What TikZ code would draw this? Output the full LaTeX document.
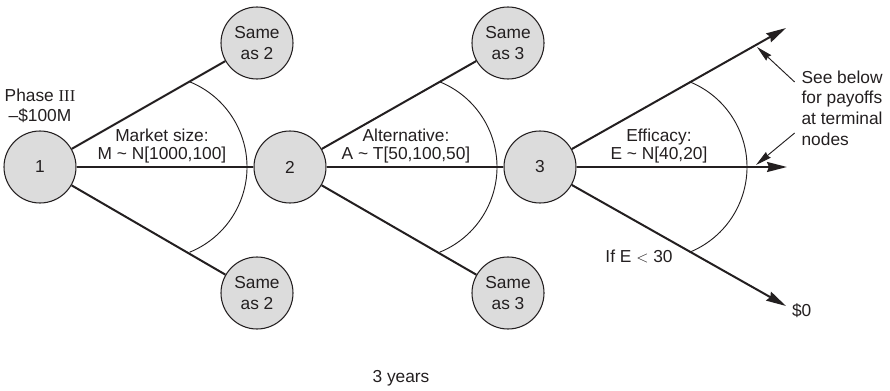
\documentclass[tikz,border=0pt]{standalone}
\usepackage{fontspec}
\setmainfont{Liberation Sans}
\newfontfamily\romanfont{Liberation Serif}
\usepackage{xcolor}
\usetikzlibrary{arrows.meta, positioning}
\definecolor{chancefill}{HTML}{DCDCDC}
\definecolor{inkgray}{HTML}{231F20}

\begin{document}
\begin{tikzpicture}[
    x=0.75pt, y=0.75pt,
    font=\fontsize{13}{15}\selectfont,
    every node/.style={text=inkgray},
    chance/.style={draw=inkgray, line width=0.8pt, circle, fill=chancefill, minimum size=54pt, inner sep=0pt, align=center},
    branch/.style={line width=1.5pt, inkgray},
    tipped/.style={branch, -{Stealth[length=15pt, width=7.5pt, inset=1.5pt]}},
    bracket/.style={line width=0.7pt, inkgray},
    pointer/.style={line width=0.7pt, inkgray, -{Stealth[length=12pt, width=5.5pt, inset=1pt]}},
    dist/.style={align=center, font=\fontsize{13}{13.5}\selectfont},
]
    \useasboundingbox (0,0) rectangle (890,390);

    \node[chance] (n1) at (40,223) {1};
    \node[chance] (n2) at (290,223) {2};
    \node[chance] (n3) at (540,223) {3};
    \node[chance, font=\fontsize{13}{15.75}\selectfont] (s2a) at (257,347) {Same\\as 2};
    \node[chance, font=\fontsize{13}{15.75}\selectfont] (s2b) at (257,97) {Same\\as 2};
    \node[chance, font=\fontsize{13}{15.75}\selectfont] (s3a) at (508,347) {Same\\as 3};
    \node[chance, font=\fontsize{13}{15.75}\selectfont] (s3b) at (508,97) {Same\\as 3};
    \coordinate (t1) at (786,362);
    \coordinate (t2) at (787,223);
    \coordinate (t3) at (786,84);

    \draw[branch] (n1) -- (s2a);
    \draw[branch] (n1) -- (n2);
    \draw[branch] (n1) -- (s2b);
    \draw[branch] (n2) -- (s3a);
    \draw[branch] (n2) -- (n3);
    \draw[branch] (n2) -- (s3b);
    \draw[tipped] (n3) -- (t1);
    \draw[tipped] (n3) -- (t2);
    \draw[tipped] (n3) -- (t3);

    \foreach \n in {n1,n2,n3}
        \draw[bracket] ([xshift=86.25pt]\n.center) ++(68:69pt) arc[start angle=68, end angle=-68, radius=69pt];

    \node[above=2pt of n1, align=center] (cost) {Phase {\romanfont\fontsize{12.5}{15}\selectfont III}\\--\$100M};
    \node[dist] (mkt) at (162,244) {Market size:\\M \textasciitilde{} N[1000,100]};
    \node[dist] (alt) at (406,244) {Alternative:\\A \textasciitilde{} T[50,100,50]};
    \node[dist] (eff) at (659,244) {Efficacy:\\E \textasciitilde{} N[40,20]};
    \node (fail) at (639,134) {If E $<$ 30};
    \node[right=1pt of t3, yshift=-3.5pt] (zero) {\$0};
    \node[align=left, anchor=west, inner sep=1pt, font=\fontsize{13}{15.5}\selectfont] (note) at (800,282) {See below\\for payoffs\\at terminal\\nodes};
    \node (span) at (401,12) {3 years};

    \coordinate (hitA) at (757,343);
    \coordinate (hitB) at (756,225);
    \draw[pointer] ([xshift=-4pt, yshift=19.5pt]note.west) -- (hitA);
    \draw[pointer] ([xshift=-4pt, yshift=-18.75pt]note.west) -- (hitB);
\end{tikzpicture}
\end{document}
